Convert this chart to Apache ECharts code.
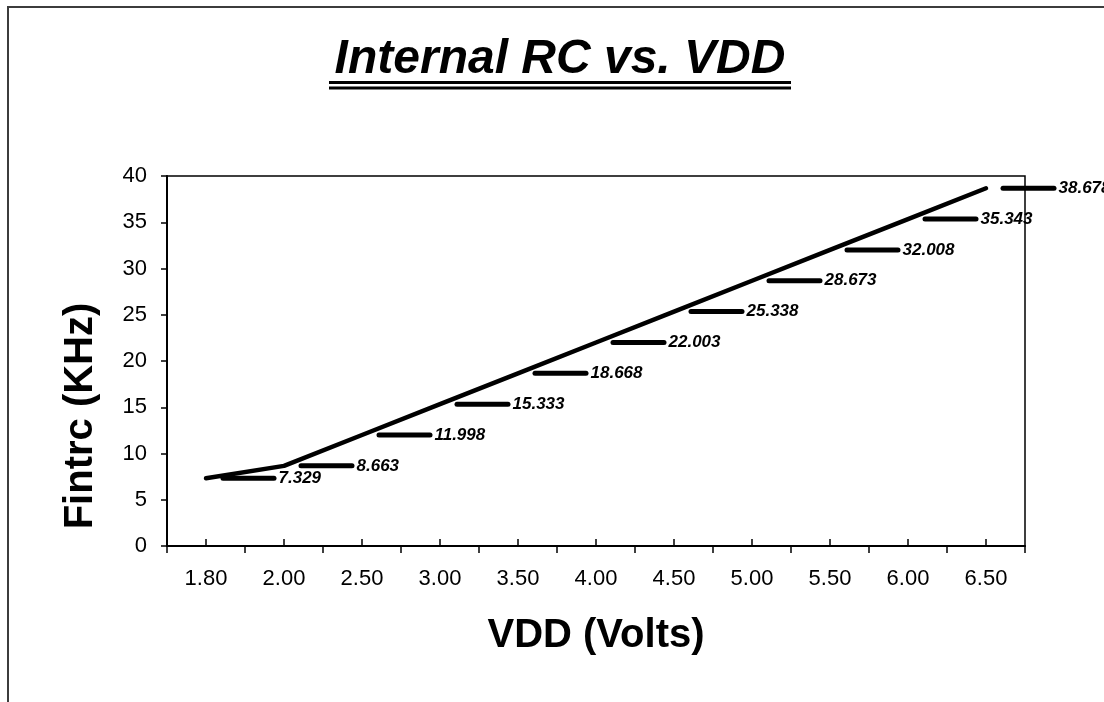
<!DOCTYPE html>
<html>
<head>
<meta charset="utf-8">
<script src="https://cdn.jsdelivr.net/npm/echarts@6/dist/echarts.min.js"></script>
<style>
html,body{margin:0;padding:0;background:#fff;}
#chart{width:1104px;height:702px;}
</style>
</head>
<body>
<div id="chart"></div>
<script>
var categories = ['1.80','2.00','2.50','3.00','3.50','4.00','4.50','5.00','5.50','6.00','6.50'];
var fintrc = [7.329, 8.663, 11.998, 15.333, 18.668, 22.003, 25.338, 28.673, 32.008, 35.343, 38.678];
var yTicks = {min: 0, max: 40, interval: 5};
var titleText = 'Internal RC vs. VDD';
var xTitle = 'VDD (Volts)';
var yTitle = 'Fintrc (KHz)';

var FONT = '"Liberation Sans", Arial, sans-serif';
var chart = echarts.init(document.getElementById('chart'), null, {renderer: 'canvas'});

var option = {
  animation: false,
  backgroundColor: '#fff',
  textStyle: {fontFamily: FONT, color: '#000'},
  grid: {
    left: 167, right: 79, top: 176, bottom: 156,
    show: true, borderColor: '#000', borderWidth: 1.5, backgroundColor: 'transparent'
  },
  xAxis: [{
    type: 'category',
    data: categories,
    boundaryGap: true,
    position: 'bottom',
    axisLine: {show: true, lineStyle: {color: '#000', width: 2}},
    axisTick: {show: true, inside: false, length: 7, interval: 0, alignWithLabel: false, lineStyle: {color: '#000', width: 1.5}},
    axisLabel: {show: true, interval: 0, margin: 22, fontSize: 22, color: '#000', fontFamily: FONT},
    splitLine: {show: false}
  }, {
    type: 'category',
    data: categories,
    boundaryGap: true,
    position: 'bottom',
    axisLine: {show: false},
    axisTick: {show: true, inside: true, length: 7, interval: 0, alignWithLabel: true, lineStyle: {color: '#000', width: 1.5}},
    axisLabel: {show: false},
    splitLine: {show: false}
  }],
  yAxis: {
    type: 'value',
    min: yTicks.min, max: yTicks.max, interval: yTicks.interval,
    axisLine: {show: true, lineStyle: {color: '#000', width: 2}},
    axisTick: {show: true, inside: false, length: 6, lineStyle: {color: '#000', width: 1.5}},
    axisLabel: {margin: 20, fontSize: 22, color: '#000', fontFamily: FONT},
    splitLine: {show: false}
  },
  series: [{
    type: 'line',
    data: fintrc,
    xAxisIndex: 0,
    symbol: 'circle',
    symbolSize: 1,
    showSymbol: true,
    itemStyle: {color: '#000'},
    lineStyle: {color: '#000', width: 4.5, cap: 'round', join: 'round'},
    clip: false,
    label: {
      show: true,
      position: 'right',
      distance: 14,
      formatter: function (p) { return '{d|}{v|' + p.value.toFixed(3) + '}'; },
      rich: {
        d: {backgroundColor: '#000', width: 56, height: 5, borderRadius: 2.5, verticalAlign: 'middle'},
        v: {fontSize: 17, fontWeight: 'bold', fontStyle: 'italic', color: '#000', fontFamily: FONT, padding: [0, 0, 0, 2], verticalAlign: 'middle'}
      }
    },
    labelLayout: {hideOverlap: false}
  }],
  graphic: [
    {type: 'rect', silent: true, shape: {x: 8, y: 7, width: 1200, height: 800}, style: {fill: 'none', stroke: '#3c3c3c', lineWidth: 2}},
    {type: 'text', silent: true, x: 560, y: 60, style: {text: titleText, font: 'italic bold 48px ' + FONT, fill: '#000', textAlign: 'center', textVerticalAlign: 'middle'}},
    {type: 'rect', silent: true, shape: {x: 329, y: 81, width: 462, height: 3}, style: {fill: '#000'}},
    {type: 'rect', silent: true, shape: {x: 329, y: 86.5, width: 462, height: 3}, style: {fill: '#000'}},
    {type: 'text', silent: true, x: 596, y: 636, style: {text: xTitle, font: 'bold 40px ' + FONT, fill: '#000', textAlign: 'center', textVerticalAlign: 'middle'}},
    {type: 'text', silent: true, x: 81, y: 416, rotation: Math.PI / 2, style: {text: yTitle, font: 'bold 40px ' + FONT, fill: '#000', textAlign: 'center', textVerticalAlign: 'middle'}}
  ]
};
chart.setOption(option);
</script>
</body>
</html>
